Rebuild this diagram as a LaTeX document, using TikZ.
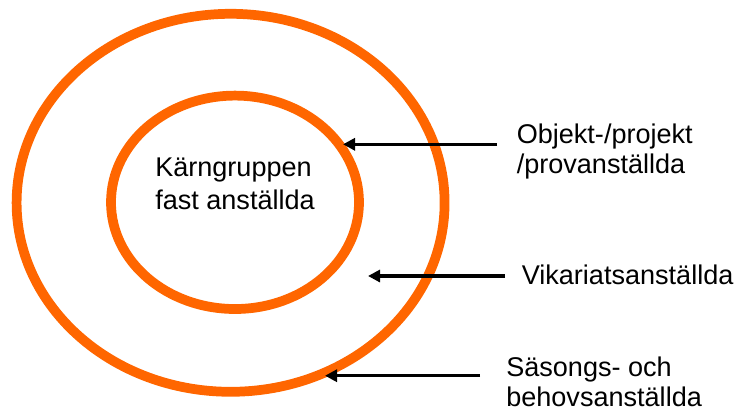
\documentclass[tikz,border=0pt]{standalone}
\usepackage{fontspec}
\setmainfont{Liberation Sans}
\usetikzlibrary{arrows.meta}
\definecolor{ringorange}{RGB}{255,102,0}

\begin{document}
\begin{tikzpicture}[x=0.75pt,y=0.75pt,yscale=-1,xscale=1,
  ring/.style={draw=ringorange, line width=7.3pt},
  pil/.style={draw=black, line width=2.3pt, -{Triangle[length=9pt,width=9pt]}},
  etikett/.style={anchor=base west, inner sep=0pt, align=left, font=\fontsize{20.3}{22.5}\selectfont}]
\useasboundingbox (0,0) rectangle (745,411);

%Rings
\draw [ring] (230.6,202.8) ellipse [x radius=214, y radius=189];
\draw [ring] (235,202.3) ellipse [x radius=124, y radius=106.7];

%Arrow ends
\coordinate (s1) at (497,144.3);
\coordinate (e1) at (343,144.3);
\coordinate (s2) at (505,276);
\coordinate (e2) at (368,276);
\coordinate (s3) at (480,375.7);
\coordinate (e3) at (325,375.7);

%Straight Lines
\draw [pil] (s1) -- (e1);
\draw [pil] (s2) -- (e2);
\draw [pil] (s3) -- (e3);

% Text Node (base = last line)
\node [etikett, font=\fontsize{20.3}{24.5}\selectfont] (karna) at (155,209.3) {Kärngruppen\\fast anställda};
% Text Node
\node [etikett] (objekt) at (516.5,173.3) {Objekt-/projekt\\/provanställda};
% Text Node
\node [etikett] (vikariat) at (521.5,284.3) {Vikariatsanställda};
% Text Node
\node [etikett] (sasong) at (506,406) {Säsongs- och\\behovsanställda};

\end{tikzpicture}
\end{document}
